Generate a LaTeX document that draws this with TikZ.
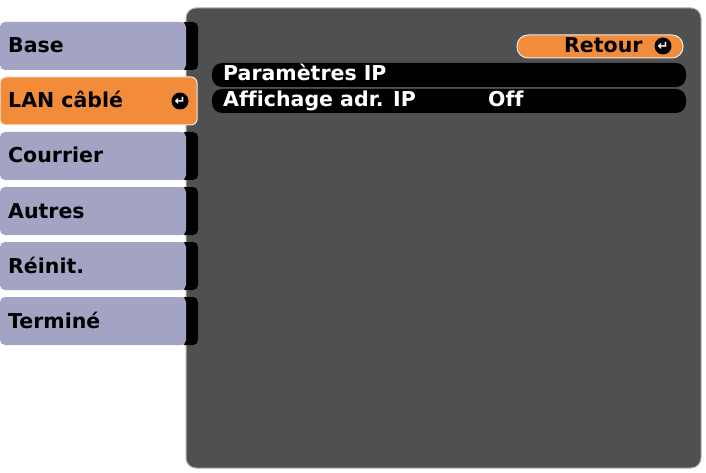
\documentclass[tikz,border=0pt]{standalone}
\usepackage{fontspec}
\setmainfont{DejaVu Sans}[Ligatures=NoCommon]
\definecolor{panel}{HTML}{505050}
\definecolor{tab}{HTML}{A3A3C4}
\definecolor{org}{HTML}{F28C3A}
\tikzset{x=1pt,y=-1pt,
 tabtxtfont/.style={font=\bfseries\fontsize{20.5}{20}\selectfont},
 tabbox/.style={fill=tab,rounded corners=5pt},
 tabtxt/.style={anchor=base west,tabtxtfont,inner sep=0},
 notch/.style={fill=black,rounded corners=5pt},
 row/.style={fill=black,rounded corners=10pt},
 rowtxt/.style={anchor=base west,tabtxtfont,text=white,inner sep=0},
 enter/.style={circle,fill=black,text=white,inner sep=0,minimum size=17pt,font=\bfseries\fontsize{13}{13}\selectfont}}
\begin{document}
\begin{tikzpicture}
\useasboundingbox (0,0) rectangle (706,473);
\fill[white] (0,0) rectangle (706,473);
\filldraw[fill=panel,draw=gray!60,line width=1pt,rounded corners=10pt] (186,8) rectangle (701,468);
\foreach \y/\t/\n in {22/Base/base,132/Courrier/cour,187/Autres/aut,242/Réinit./rei,297/Terminé/ter}{
  \fill[notch] (180,\y) rectangle (198,\y+48);
  \fill[tabbox] (0,\y) rectangle (186,\y+48);
  \node[tabtxt] (\n) at (8,\y+31) {\t};
}
\filldraw[fill=org,draw=white!85!gray,line width=1pt,rounded corners=6pt] (0,77) rectangle (197,125);
\node[tabtxt] (lan) at (8,108) {LAN câblé};
\node[enter] (lanE) at (180,101) {↵};
\fill[row] (212,63) rectangle (686,87);
\fill[row] (212,89) rectangle (686,113);
\node[rowtxt] (p1) at (223,81) {Paramètres IP};
\node[rowtxt] (p2) at (223,107) {Affichage adr. IP};
\node[rowtxt] (off) at (488,107) {Off};
\filldraw[fill=org,draw=white!85!gray,line width=1pt,rounded corners=11pt] (517,35) rectangle (683,58);
\node[anchor=base west,inner sep=0,tabtxtfont] (ret) at (564,53) {Retour};
\node[enter] (retE) at (663,46) {↵};
\end{tikzpicture}
\end{document}
